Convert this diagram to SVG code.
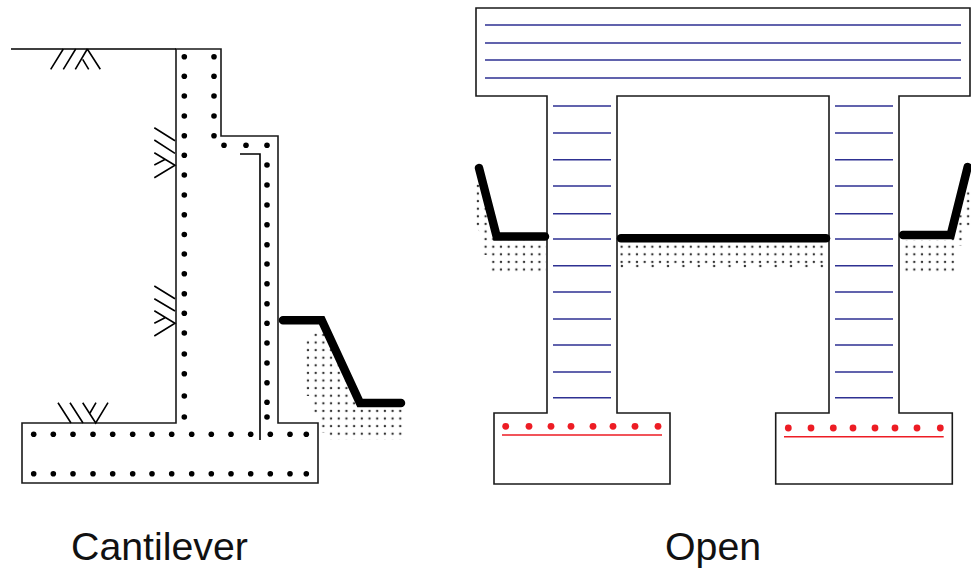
<svg xmlns="http://www.w3.org/2000/svg" width="971" height="569" viewBox="0 0 971 569">
<style>
.o{fill:none;stroke:#1a1a1a;stroke-width:1.6}
.s{fill:none;stroke:#000;stroke-width:1.6}
.t{fill:none;stroke:#000;stroke-width:8.5;stroke-linecap:round;stroke-linejoin:miter}
.b{stroke:#2e3192;stroke-width:1.5}
.r{stroke:#ed1c24;stroke-width:1.5}
.d{fill:#000}
.rd{fill:#ed1c24}
.sd{fill:#333}
text{font-family:"Liberation Sans",Arial,sans-serif;font-size:39.3px;fill:#111}
</style>
<defs>
<circle id="sdot" cx="3.8" cy="3.8" r="1.2" class="sd"/>
<pattern id="stA" width="7.69" height="7.6" patternUnits="userSpaceOnUse" x="-3.4" y="-3.3"><use href="#sdot"/></pattern>
<pattern id="stB" width="7.69" height="7.6" patternUnits="userSpaceOnUse" x="-2.66" y="-0.3"><use href="#sdot"/></pattern>
<pattern id="stC" width="7.69" height="7.6" patternUnits="userSpaceOnUse" x="2.6" y="-0.3"><use href="#sdot"/></pattern>
<pattern id="stD" width="7.69" height="7.6" patternUnits="userSpaceOnUse" x="3.1" y="-0.3"><use href="#sdot"/></pattern>
<pattern id="stE" width="15.38" height="7.6" patternUnits="userSpaceOnUse" x="2.9" y="-3.8"><use href="#sdot"/></pattern>
<circle id="k" r="2.8" class="d"/>
<circle id="q" r="3.4" class="rd"/>
</defs>
<g id="cantilever">
<path class="o" d="M176 49H221V136H278V423H318V483H22V423H176Z"/>
<path class="s" d="M11 49H176M240 154H260V440"/>
<g id="cantilever-rebar">
<use href="#k" x="184.3" y="56.7"/><use href="#k" x="184.3" y="76.3"/><use href="#k" x="184.3" y="96"/><use href="#k" x="184.3" y="116"/><use href="#k" x="184.3" y="135.7"/><use href="#k" x="184.3" y="155.3"/><use href="#k" x="184.3" y="175"/><use href="#k" x="184.3" y="195"/><use href="#k" x="184.3" y="214.7"/><use href="#k" x="184.3" y="234.5"/><use href="#k" x="184.3" y="254"/><use href="#k" x="184.3" y="273.7"/><use href="#k" x="184.3" y="293.7"/><use href="#k" x="184.3" y="313.3"/><use href="#k" x="184.3" y="333"/><use href="#k" x="184.3" y="354"/><use href="#k" x="184.3" y="373.7"/><use href="#k" x="184.3" y="396"/><use href="#k" x="184.3" y="417"/>
<use href="#k" x="214" y="56.7"/><use href="#k" x="214" y="76.3"/><use href="#k" x="214" y="96"/><use href="#k" x="214" y="116"/><use href="#k" x="214" y="135.7"/>
<use href="#k" x="224" y="145.3"/><use href="#k" x="246" y="145.3"/>
<use href="#k" x="267" y="145.3"/><use href="#k" x="267" y="165"/><use href="#k" x="267" y="185"/><use href="#k" x="267" y="205"/><use href="#k" x="267" y="224.7"/><use href="#k" x="267" y="244.7"/><use href="#k" x="267" y="264"/><use href="#k" x="267" y="283.7"/><use href="#k" x="267" y="303.7"/><use href="#k" x="267" y="323.3"/><use href="#k" x="267" y="343"/><use href="#k" x="267" y="363"/><use href="#k" x="267" y="382.7"/><use href="#k" x="267" y="402.3"/><use href="#k" x="267" y="417"/>
<use href="#k" x="33.7" y="434.3"/><use href="#k" x="53.3" y="434.3"/><use href="#k" x="73" y="434.3"/><use href="#k" x="93" y="434.3"/><use href="#k" x="112.7" y="434.3"/><use href="#k" x="132.7" y="434.3"/><use href="#k" x="152" y="434.3"/><use href="#k" x="171.7" y="434.3"/><use href="#k" x="191.7" y="434.3"/><use href="#k" x="211.3" y="434.3"/><use href="#k" x="231" y="434.3"/><use href="#k" x="250.7" y="434.3"/><use href="#k" x="270.3" y="434.3"/><use href="#k" x="290" y="434.3"/><use href="#k" x="306.3" y="434.3"/>
<use href="#k" x="33.7" y="473.7"/><use href="#k" x="53.3" y="473.7"/><use href="#k" x="73" y="473.7"/><use href="#k" x="93" y="473.7"/><use href="#k" x="112.7" y="473.7"/><use href="#k" x="132.7" y="473.7"/><use href="#k" x="152" y="473.7"/><use href="#k" x="171.7" y="473.7"/><use href="#k" x="191.7" y="473.7"/><use href="#k" x="211.3" y="473.7"/><use href="#k" x="231" y="473.7"/><use href="#k" x="250.7" y="473.7"/><use href="#k" x="270.3" y="473.7"/><use href="#k" x="290" y="473.7"/><use href="#k" x="306.3" y="473.7"/>
</g>
<g id="cantilever-symbols">
<path class="s" d="M63.3 49L50.7 69.3M75.7 49L63.3 69.3M87.3 49L75.3 69.3M87.3 49L100.3 69.3M82.7 59.3L88.7 69.3"/>
<path class="s" d="M154.3 127.7L175 140.7M154.3 140L175 153.3M154.3 152.7L175 165.3L154.3 177.7M154.3 165L165.3 159.3"/>
<path class="s" d="M154.3 286L175 298.7M154.3 298.7L175 311M154.3 310.7L175 323.3L154.3 336M154.3 323.3L165 317.7"/>
<path class="s" d="M58 402.7L71 423M70 402.7L83 423M82.7 402.7L95.7 423L108 402.7M96 402.7L90 413"/>
</g>
<path fill="url(#stA)" d="M305 337V396H312V414H320V433H328V440H404V405H360L322 324H319V333H312V337Z"/>
<path class="t" d="M283 320.3H321.7L360 403H401"/>
</g>
<g id="open">
<path class="o" d="M476 8H970V96H899V413H952.3V484H775.7V413H829V96H617V413H670V484H494V413H547V96H476Z"/>
<g id="open-blue">
<path class="b" d="M485 25H961M485 43H961M485 60H961M485 78H961"/>
<path class="b" d="M553 106H611M553 133H611M553 159.7H611M553 186H611M553 213.7H611M553 239H611M553 265.7H611M553 292H611M553 319H611M553 345H611M553 372H611M553 397.7H611"/>
<path class="b" d="M835 106H893M835 133H893M835 159.7H893M835 186H893M835 213.7H893M835 239H893M835 265.7H893M835 292H893M835 319H893M835 345H893M835 372H893M835 397.7H893"/>
</g>
<g id="open-red">
<path class="r" d="M502 435H662M784 436.7H943.7"/>
<use href="#q" x="505.7" y="426.3"/><use href="#q" x="529" y="426.3"/><use href="#q" x="551" y="426.3"/><use href="#q" x="571" y="426.3"/><use href="#q" x="593" y="426.3"/><use href="#q" x="613" y="426.3"/><use href="#q" x="635" y="426.3"/><use href="#q" x="658" y="426.3"/>
<use href="#q" x="788.3" y="428"/><use href="#q" x="811" y="428"/><use href="#q" x="833.3" y="428"/><use href="#q" x="853" y="428"/><use href="#q" x="875" y="428"/><use href="#q" x="895" y="428"/><use href="#q" x="917" y="428"/><use href="#q" x="940.3" y="428"/>
</g>
<path fill="url(#stB)" d="M475 182V225L483 237V255H490V272H546V240H497L490 208H481V182Z"/>
<path fill="url(#stC)" d="M620 243H826V264H620Z"/>
<path fill="url(#stE)" d="M620 264H826V268H620Z"/>
<path fill="url(#stD)" d="M902 240H950L958 215H964V188H971V226H964V246H956V272H902Z"/>
<path class="t" d="M479 168L496.7 236.5H545"/>
<path class="t" d="M621 238.3H826"/>
<path class="t" d="M903 235H950.7L967.7 167"/>
</g>
<text x="71" y="560">Cantilever</text>
<text x="665" y="560">Open</text>
</svg>
